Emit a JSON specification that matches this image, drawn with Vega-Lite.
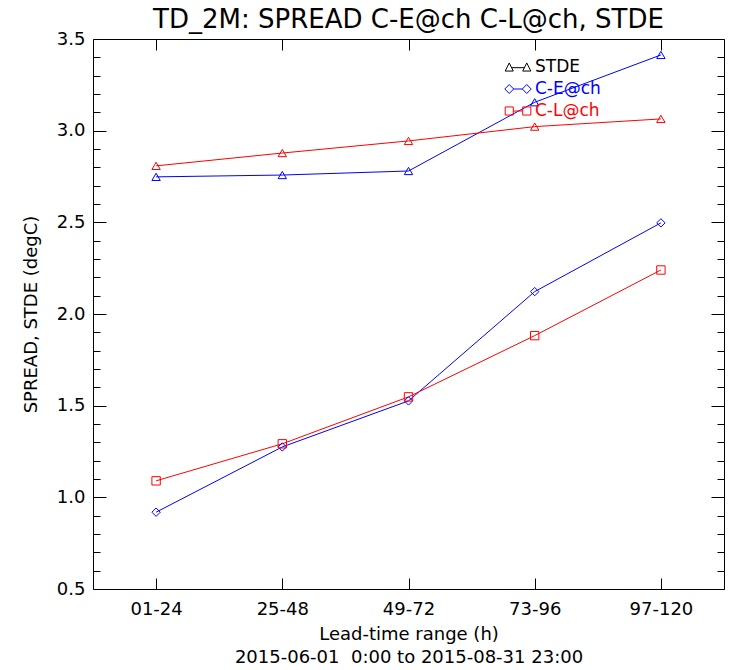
{
  "$schema": "https://vega.github.io/schema/vega-lite/v6.json",
  "width": 631,
  "height": 550,
  "autosize": {"type": "none"},
  "padding": {"left": 93, "top": 39, "right": 12, "bottom": 81},
  "background": "white",
  "title": {"text": "TD_2M: SPREAD C-E@ch C-L@ch, STDE", "font": "DejaVu Sans", "fontSize": 26, "fontWeight": "normal", "color": "black", "anchor": "middle", "offset": -3},
  "config": {
    "font": "DejaVu Sans",
    "view": {"stroke": "black", "strokeWidth": 1},
    "axis": {"labelFont": "DejaVu Sans", "labelFontSize": 18, "labelColor": "black", "titleFont": "DejaVu Sans", "titleFontSize": 18, "titleFontWeight": "normal", "titleColor": "black", "domain": false, "grid": false}
  },
  "data": {"values": [
    {"range": "01-24", "series": "STDE C-E@ch", "value": 2.748},
    {"range": "25-48", "series": "STDE C-E@ch", "value": 2.758},
    {"range": "49-72", "series": "STDE C-E@ch", "value": 2.78},
    {"range": "73-96", "series": "STDE C-E@ch", "value": 3.155},
    {"range": "97-120", "series": "STDE C-E@ch", "value": 3.413},
    {"range": "01-24", "series": "STDE C-L@ch", "value": 2.808},
    {"range": "25-48", "series": "STDE C-L@ch", "value": 2.878},
    {"range": "49-72", "series": "STDE C-L@ch", "value": 2.944},
    {"range": "73-96", "series": "STDE C-L@ch", "value": 3.022},
    {"range": "97-120", "series": "STDE C-L@ch", "value": 3.064},
    {"range": "01-24", "series": "SPREAD C-E@ch", "value": 0.919},
    {"range": "25-48", "series": "SPREAD C-E@ch", "value": 1.275},
    {"range": "49-72", "series": "SPREAD C-E@ch", "value": 1.526},
    {"range": "73-96", "series": "SPREAD C-E@ch", "value": 2.122},
    {"range": "97-120", "series": "SPREAD C-E@ch", "value": 2.497},
    {"range": "01-24", "series": "SPREAD C-L@ch", "value": 1.09},
    {"range": "25-48", "series": "SPREAD C-L@ch", "value": 1.292},
    {"range": "49-72", "series": "SPREAD C-L@ch", "value": 1.548},
    {"range": "73-96", "series": "SPREAD C-L@ch", "value": 1.882},
    {"range": "97-120", "series": "SPREAD C-L@ch", "value": 2.24}
  ]},
  "layer": [
    {
      "mark": {"type": "line", "strokeWidth": 1},
      "encoding": {
        "x": {"field": "range", "type": "ordinal", "sort": null, "scale": {"type": "point", "padding": 0.5},
          "axis": {"orient": "bottom", "title": ["Lead-time range (h)", "2015-06-01 \u00a00:00 to 2015-08-31 23:00"], "titleLineHeight": 23, "titlePadding": 7, "labelAngle": 0, "labelPadding": 11, "ticks": false}},
        "y": {"field": "value", "type": "quantitative", "scale": {"domain": [0.5, 3.5], "nice": false, "zero": false},
          "axis": {"orient": "left", "title": "SPREAD, STDE (degC)", "titlePadding": 16, "labelPadding": 8,
            "values": [0.5, 1, 1.5, 2, 2.5, 3, 3.5], "format": ".1f", "ticks": false}},
        "color": {"field": "series", "type": "nominal", "scale": {"domain": ["STDE C-E@ch", "STDE C-L@ch", "SPREAD C-E@ch", "SPREAD C-L@ch"], "range": ["#0000ff", "#ff0000", "#0000ff", "#ff0000"]}, "legend": null}
      }
    },
    {
      "mark": {"type": "point", "filled": false, "size": 70, "strokeWidth": 1, "opacity": 1},
      "encoding": {
        "x": {"field": "range", "type": "ordinal", "sort": null,
          "axis": {"orient": "top", "title": null, "labels": false, "ticks": true, "tickColor": "black", "tickWidth": 1, "tickSize": -11}},
        "y": {"field": "value", "type": "quantitative",
          "axis": {"orient": "right", "title": null, "labels": false, "values": [0.5, 1, 1.5, 2, 2.5, 3, 3.5], "ticks": true, "tickColor": "black", "tickWidth": 1, "tickSize": -13}},
        "color": {"field": "series", "type": "nominal", "scale": {"domain": ["STDE C-E@ch", "STDE C-L@ch", "SPREAD C-E@ch", "SPREAD C-L@ch"], "range": ["#0000ff", "#ff0000", "#0000ff", "#ff0000"]}, "legend": null},
        "shape": {"field": "series", "type": "nominal", "scale": {"domain": ["STDE C-E@ch", "STDE C-L@ch", "SPREAD C-E@ch", "SPREAD C-L@ch"], "range": ["triangle-up", "triangle-up", "diamond", "square"]}, "legend": null}
      }
    },
    {
      "mark": {"type": "point", "opacity": 0},
      "encoding": {
        "x": {"field": "range", "type": "ordinal", "sort": null,
          "axis": {"orient": "bottom", "title": null, "labels": false, "ticks": true, "tickColor": "black", "tickWidth": 1, "tickSize": -11}},
        "y": {"field": "value", "type": "quantitative",
          "axis": {"orient": "left", "title": null, "labels": false, "values": [0.5, 1, 1.5, 2, 2.5, 3, 3.5], "ticks": true, "tickColor": "black", "tickWidth": 1, "tickSize": -13}}
      }
    },
    {
      "mark": {"type": "point", "opacity": 0},
      "encoding": {
        "x": {"field": "range", "type": "ordinal", "sort": null, "axis": null},
        "y": {"field": "value", "type": "quantitative",
          "axis": {"orient": "left", "title": null, "labels": false, "values": [0.6,0.7,0.8,0.9,1.1,1.2,1.3,1.4,1.6,1.7,1.8,1.9,2.1,2.2,2.3,2.4,2.6,2.7,2.8,2.9,3.1,3.2,3.3,3.4], "ticks": true, "tickColor": "black", "tickWidth": 1, "tickSize": -7}}
      }
    },
    {
      "mark": {"type": "point", "opacity": 0},
      "encoding": {
        "x": {"field": "range", "type": "ordinal", "sort": null, "axis": null},
        "y": {"field": "value", "type": "quantitative",
          "axis": {"orient": "right", "title": null, "labels": false, "values": [0.6,0.7,0.8,0.9,1.1,1.2,1.3,1.4,1.6,1.7,1.8,1.9,2.1,2.2,2.3,2.4,2.6,2.7,2.8,2.9,3.1,3.2,3.3,3.4], "ticks": true, "tickColor": "black", "tickWidth": 1, "tickSize": -7}}
      }
    },
    {
      "data": {"values": [{"leg": "STDE"}, {"leg": "C-E@ch"}, {"leg": "C-L@ch"}]},
      "mark": {"type": "point", "filled": false, "opacity": 0, "size": 729},
      "encoding": {
        "color": {"field": "leg", "type": "nominal", "scale": {"domain": ["STDE", "C-E@ch", "C-L@ch"], "range": ["black", "#0000ff", "#ff0000"]},
          "legend": {"orient": "none", "legendX": 411, "legendY": 17, "title": null, "padding": 0, "symbolSize": 729, "symbolStrokeWidth": 1, "symbolOpacity": 1, "labelFont": "DejaVu Sans", "labelFontSize": 17, "labelOffset": 3, "clipHeight": 22, "rowPadding": 0,
            "labelColor": {"expr": "datum.value == 'STDE' ? 'black' : datum.value == 'C-E@ch' ? '#0000ff' : '#ff0000'"}}},
        "shape": {"field": "leg", "type": "nominal", "scale": {"domain": ["STDE", "C-E@ch", "C-L@ch"], "range": [
            "M-0.95,0.3L-0.65,-0.3L-0.35,0.3ZM-0.45,0.05L0.45,0.05M0.35,0.3L0.65,-0.3L0.95,0.3Z",
            "M-0.98,0L-0.65,-0.33L-0.32,0L-0.65,0.33ZM-0.32,0L0.32,0M0.32,0L0.65,-0.33L0.98,0L0.65,0.33Z",
            "M-0.95,-0.3L-0.35,-0.3L-0.35,0.3L-0.95,0.3ZM-0.35,0L0.35,0M0.35,-0.3L0.95,-0.3L0.95,0.3L0.35,0.3Z"]},
          "legend": {"orient": "none", "legendX": 411, "legendY": 17, "title": null, "padding": 0, "symbolSize": 729, "symbolStrokeWidth": 1, "symbolOpacity": 1, "labelFont": "DejaVu Sans", "labelFontSize": 17, "labelOffset": 3, "clipHeight": 22, "rowPadding": 0,
            "labelColor": {"expr": "datum.value == 'STDE' ? 'black' : datum.value == 'C-E@ch' ? '#0000ff' : '#ff0000'"}}}
      }
    }
  ],
  "resolve": {
    "scale": {"color": "independent", "shape": "independent"},
    "axis": {"x": "independent", "y": "independent"}
  }
}
